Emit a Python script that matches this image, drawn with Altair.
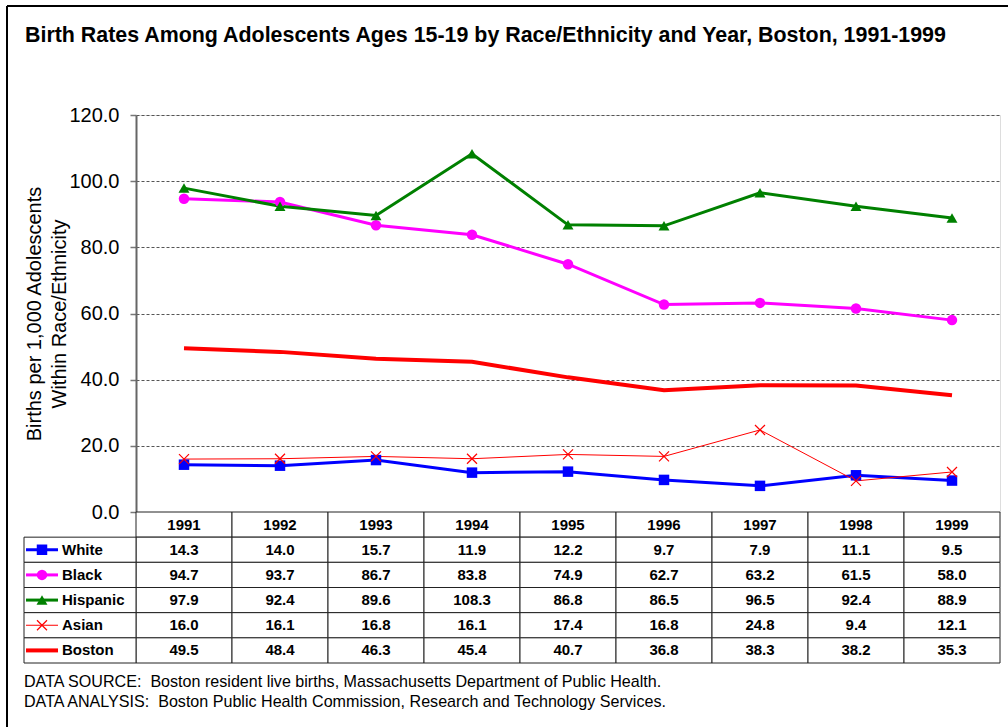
import altair as alt
import pandas as pd

# Teen birth rates per 1,000 adolescents (ages 15-19), Boston
years = ["1991", "1992", "1993", "1994", "1995", "1996", "1997", "1998", "1999"]
series = ["White", "Black", "Hispanic", "Asian", "Boston"]
white = [14.3, 14.0, 15.7, 11.9, 12.2, 9.7, 7.9, 11.1, 9.5]
black = [94.7, 93.7, 86.7, 83.8, 74.9, 62.7, 63.2, 61.5, 58.0]
hispanic = [97.9, 92.4, 89.6, 108.3, 86.8, 86.5, 96.5, 92.4, 88.9]
asian = [16.0, 16.1, 16.8, 16.1, 17.4, 16.8, 24.8, 9.4, 12.1]
boston = [49.5, 48.4, 46.3, 45.4, 40.7, 36.8, 38.3, 38.2, 35.3]

colors = ["#0000FF", "#FF00FF", "#008000", "#FF0000", "#FF0000"]
widths = [3, 3, 3, 1, 4]

title_text = ("Birth Rates Among Adolescents Ages 15-19 by Race/Ethnicity "
              "and Year, Boston, 1991-1999")
y_title = ["Births per 1,000 Adolescents", "Within Race/Ethnicity"]
NB = "\u00a0"
footer_lines = [
    f"DATA SOURCE:{NB} Boston resident live births, Massachusetts Department of Public Health.",
    f"DATA ANALYSIS:{NB} Boston Public Health Commission, Research and Technology Services.",
]

FONT = "Liberation Sans"
W, H = 864, 397

values = dict(zip(series, [white, black, hispanic, asian, boston]))
df = pd.DataFrame(
    [{"year": y, "series": s, "value": v}
     for s in series for y, v in zip(years, values[s])]
)
years_df = pd.DataFrame({"year": years, "row": "year"})
rows_domain = ["year"] + series
legend_df = pd.DataFrame({"row": series})

x_enc = alt.X("year:N", sort=years, axis=None,
              scale=alt.Scale(type="band", paddingInner=0, paddingOuter=0))
color_scale = alt.Scale(domain=series, range=colors)
width_scale = alt.Scale(type="ordinal", domain=series, range=widths)
y_scale = alt.Scale(domain=[0, 120], nice=False, zero=True)

y_axis = alt.Axis(
    values=[0, 20, 40, 60, 80, 100, 120], format=".1f",
    title=y_title, titleFont=FONT, titleFontSize=20,
    titleFontWeight="normal", titleColor="#000",
    titleX=-96, titleY=H / 2, titleAngle=270,
    titleBaseline="alphabetic", titleAlign="center", titleLineHeight=25,
    labelFont=FONT, labelFontSize=20, labelColor="#000",
    labelPadding=11, tickSize=6, tickColor="#777", tickWidth=1.5,
    domainColor="#666", domainWidth=2,
    grid=True, gridColor="#555", gridDash=[3, 2], gridWidth=1,
)
y_enc = alt.Y("value:Q", scale=y_scale, axis=y_axis)

base = alt.Chart(df)

lines = base.mark_line().encode(
    x=x_enc,
    y=y_enc,
    color=alt.Color("series:N", scale=color_scale, legend=None),
    strokeWidth=alt.StrokeWidth("series:N", scale=width_scale, legend=None),
    detail="series:N",
)


def marker_layer(name, shape, size, filled, stroke_width=1):
    return base.transform_filter(alt.datum.series == name).mark_point(
        shape=shape, size=size, filled=filled, opacity=1,
        strokeWidth=stroke_width,
        color=colors[series.index(name)],
    ).encode(x=x_enc, y=y_enc)


X_SHAPE = "M-1,-1L1,1M-1,1L1,-1"
markers = [
    marker_layer("White", "square", 110, True),
    marker_layer("Black", "circle", 110, True),
    marker_layer("Hispanic", "triangle-up", 120, True),
    marker_layer("Asian", X_SHAPE, 100, False, 1.2),
]

plot = alt.layer(lines, *markers)

# ---- data table under the plot ----
row_scale = alt.Scale(domain=rows_domain, range=[H, H + 151],
                      paddingInner=0, paddingOuter=0)
row_y = alt.Y("row:N", scale=row_scale, axis=None)

cells_df = pd.concat([
    years_df,
    pd.DataFrame([{"year": y, "row": s} for s in series for y in years]),
])
cells = alt.Chart(cells_df).mark_rect(
    fill="white", stroke="#222", strokeWidth=1
).encode(x=x_enc, y=row_y)

header = alt.Chart(years_df).mark_text(
    font=FONT, fontSize=15, fontWeight="bold", color="#000"
).encode(x=x_enc, y=row_y, text="year:N")

cell_text = alt.Chart(df.rename(columns={"series": "row"})).mark_text(
    font=FONT, fontSize=15, fontWeight="bold", color="#000"
).encode(x=x_enc, y=row_y, text=alt.Text("value:Q", format=".1f"))

leg_base = alt.Chart(legend_df)
legend_cells = leg_base.mark_rect(
    fill="white", stroke="#222", strokeWidth=1
).encode(x=alt.value(-112), x2=alt.value(0), y=row_y)

legend_lines = leg_base.mark_rule().encode(
    x=alt.value(-110), x2=alt.value(-78), y=row_y,
    color=alt.Color("row:N", scale=color_scale, legend=None),
    strokeWidth=alt.StrokeWidth("row:N", scale=width_scale, legend=None),
)


def legend_marker(name, shape, size, filled, stroke_width=1):
    return leg_base.transform_filter(alt.datum.row == name).mark_point(
        shape=shape, size=size, filled=filled, opacity=1,
        strokeWidth=stroke_width, color=colors[series.index(name)],
    ).encode(x=alt.value(-94), y=row_y)


legend_markers = [
    legend_marker("White", "square", 110, True),
    legend_marker("Black", "circle", 110, True),
    legend_marker("Hispanic", "triangle-up", 120, True),
    legend_marker("Asian", X_SHAPE, 100, False, 1.2),
]

legend_labels = leg_base.mark_text(
    font=FONT, fontSize=15, fontWeight="bold", color="#000", align="left"
).encode(x=alt.value(-74), y=row_y, text="row:N")

table = alt.layer(cells, header, cell_text, legend_cells, legend_lines,
                  *legend_markers, legend_labels)

# ---- title, sources and page frame ----
title = alt.Chart(pd.DataFrame({"t": [title_text]})).mark_text(
    font=FONT, fontSize=21.4, fontWeight="bold", color="#000",
    align="left", baseline="alphabetic"
).encode(x=alt.value(-111), y=alt.value(-73), text="t:N")

footer = alt.Chart(pd.DataFrame({"t": ["\n".join(footer_lines)]})).mark_text(
    font=FONT, fontSize=16.1, color="#000", align="left",
    baseline="alphabetic", lineBreak="\n", lineHeight=20,
).encode(x=alt.value(-112), y=alt.value(H + 175), text="t:N")

frame_top = alt.Chart(pd.DataFrame({"k": [0]})).mark_rule(
    color="#000", strokeWidth=2
).encode(x=alt.value(-129), x2=alt.value(W + 8), y=alt.value(-109))
frame_left = alt.Chart(pd.DataFrame({"k": [0]})).mark_rule(
    color="#000", strokeWidth=2
).encode(x=alt.value(-129), y=alt.value(-109), y2=alt.value(H + 215))

chart = alt.layer(
    frame_top, frame_left, title, plot, table, footer
).resolve_scale(y="independent").properties(
    width=W, height=H,
    padding={"left": 136, "top": 115, "right": 8, "bottom": 215},
    autosize=alt.AutoSizeParams(type="none"),
).configure_view(stroke="#000", strokeWidth=1).configure(background="white")

chart.save("out.html", embed_options={"renderer": "svg", "actions": False})
